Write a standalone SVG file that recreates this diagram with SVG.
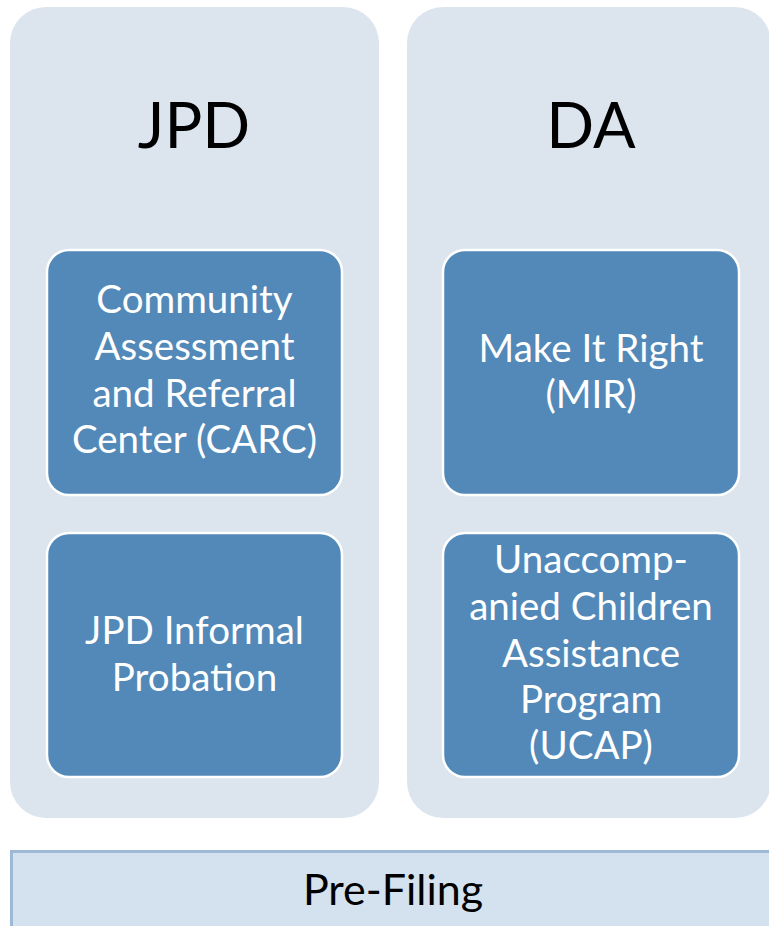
<svg xmlns="http://www.w3.org/2000/svg" width="769" height="926" viewBox="0 0 769 926">
<style>
.panel{fill:#DCE4EE}
.box{fill:#5289B8;stroke:#FFFFFF;stroke-width:2.5}
.title{font-family:Lato,"Open Sans",sans-serif;font-size:63px;fill:#000;text-anchor:middle}
.lbl{font-family:Lato,"Open Sans",sans-serif;font-size:38.5px;fill:#FFFFFF;text-anchor:middle}
.bar{fill:#D4E1EE}
.barline{stroke:#9DB9D6;stroke-width:3;fill:none}
.bartxt{font-family:Lato,"Open Sans",sans-serif;font-size:43px;fill:#000;text-anchor:middle}
</style>
<rect width="769" height="926" fill="#FFFFFF"/>
<g id="panel-jpd">
<rect class="panel" x="10" y="7" width="369" height="811" rx="36"/>
<text class="title" x="194" y="148">JPD</text>
</g>
<g id="panel-da">
<rect class="panel" x="407" y="7" width="364" height="811" rx="36"/>
<text class="title" x="591" y="148">DA</text>
</g>
<g id="node-carc">
<rect class="box" x="47" y="250" width="295" height="245" rx="22"/>
<text class="lbl" x="194.5" y="313">Community</text>
<text class="lbl" x="194.5" y="360">Assessment</text>
<text class="lbl" x="194.5" y="407">and Referral</text>
<text class="lbl" x="194.5" y="453">Center (CARC)</text>
</g>
<g id="node-jpd-informal">
<rect class="box" x="47" y="533" width="295" height="244" rx="22"/>
<text class="lbl" x="194.5" y="644">JPD Informal</text>
<text class="lbl" x="194.5" y="691">Probation</text>
</g>
<g id="node-mir">
<rect class="box" x="443" y="250" width="296" height="245" rx="22"/>
<text class="lbl" x="591" y="362">Make It Right</text>
<text class="lbl" x="591" y="408">(MIR)</text>
</g>
<g id="node-ucap">
<rect class="box" x="443" y="533" width="296" height="244" rx="22"/>
<text class="lbl" x="591" y="573">Unaccomp-</text>
<text class="lbl" x="591" y="620">anied Children</text>
<text class="lbl" x="591" y="667">Assistance</text>
<text class="lbl" x="591" y="713">Program</text>
<text class="lbl" x="591" y="759">(UCAP)</text>
</g>
<g id="node-prefiling">
<rect class="bar" x="10" y="850" width="770" height="90"/>
<path class="barline" d="M11.5 940 V851.5 H780"/>
<text class="bartxt" x="393" y="905">Pre-Filing</text>
</g>
<g id="connectors"></g>
</svg>
